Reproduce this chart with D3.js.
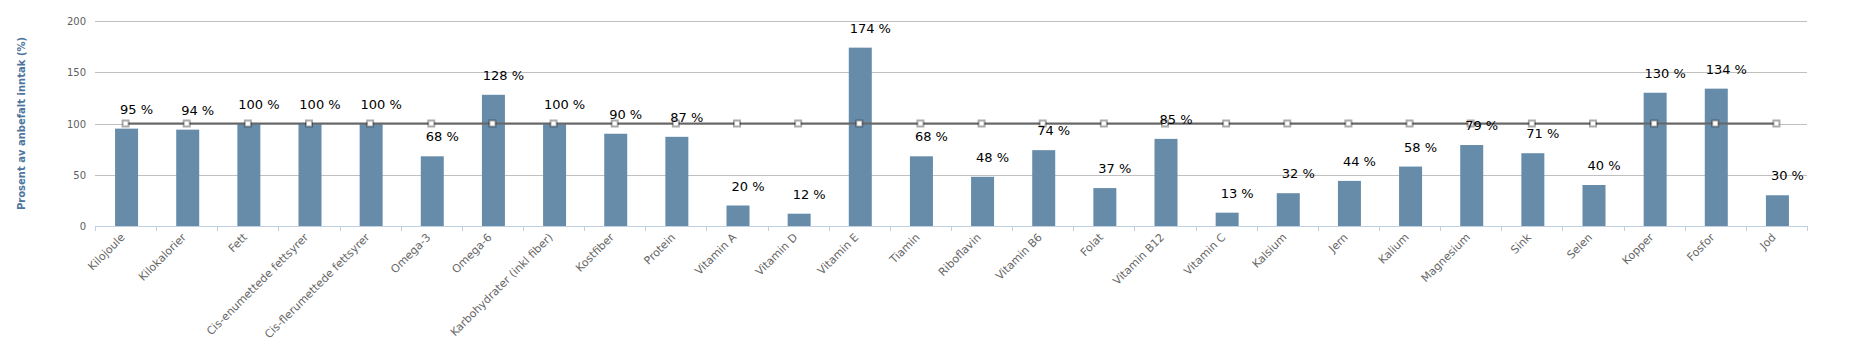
<!DOCTYPE html>
<html>
<head>
<meta charset="utf-8">
<script src="https://cdn.jsdelivr.net/npm/d3@7"></script>
<style>
    body { margin: 0; background: #fff; }
    svg { display: block; font-family: "DejaVu Sans", Verdana, sans-serif; }
</style>
</head>
<body>
<svg id="chart-svg" width="1857" height="362"></svg>
<script>
// næringsstoffer (kategorier)
var categories = ['Kilojoule', 'Kilokalorier', 'Fett', 'Cis-enumettede fettsyrer', 'Cis-flerumettede fettsyrer',
    'Omega-3', 'Omega-6', 'Karbohydrater (inkl fiber)', 'Kostfiber', 'Protein', 'Vitamin A', 'Vitamin D',
    'Vitamin E', 'Tiamin', 'Riboflavin', 'Vitamin B6', 'Folat', 'Vitamin B12', 'Vitamin C', 'Kalsium',
    'Jern', 'Kalium', 'Magnesium', 'Sink', 'Selen', 'Kopper', 'Fosfor', 'Jod']
// prosent av anbefalt inntak
var values = [95, 94, 100, 100, 100, 68, 128, 100, 90, 87, 20, 12, 174, 68, 48, 74, 37, 85, 13, 32, 44, 58, 79, 71, 40, 130, 134, 30]
// anbefalt nivå (100 %)
var target = categories.map(function () { return 100 })
var yTicks = [0, 50, 100, 150, 200]

var svg = d3.select('#chart-svg')
var conf = { left: 95, right: 1807, top: 21, bottom: 226 }

var x = d3.scaleBand().domain(categories).range([conf.left, conf.right]).paddingInner(0).paddingOuter(0)
var y = d3.scaleLinear().domain([0, 200]).range([conf.bottom, conf.top])
var barW = 23

// grid
svg.append('g').selectAll('line').data(yTicks).enter().append('line')
    .attr('x1', conf.left).attr('x2', conf.right)
    .attr('y1', d => Math.round(y(d)) + 0.5).attr('y2', d => Math.round(y(d)) + 0.5)
    .attr('stroke', '#c0c0c0').attr('stroke-width', 1)

// y tick labels
svg.append('g').selectAll('text').data(yTicks).enter().append('text')
    .attr('x', conf.left - 9).attr('y', d => y(d) + 4)
    .attr('text-anchor', 'end').attr('font-size', 10).attr('fill', '#606060')
    .text(d => d)

// y title
svg.append('text')
    .attr('transform', 'translate(' + 25 + ',' + (conf.top + conf.bottom) / 2 + ') rotate(-90)')
    .attr('text-anchor', 'middle').attr('font-size', 10).attr('font-weight', 'bold')
    .attr('fill', '#4d759e')
    .text('Prosent av anbefalt inntak (%)')

// bars
svg.append('g').selectAll('rect').data(values).enter().append('rect')
    .attr('x', (d, i) => x(categories[i]) + x.bandwidth() / 2 - barW / 2 + 1)
    .attr('y', d => y(d))
    .attr('width', barW)
    .attr('height', d => y(0) - y(d))
    .attr('fill', '#678caa')

// x axis
var axis = svg.append('g')
axis.append('line')
    .attr('x1', conf.left).attr('x2', conf.right)
    .attr('y1', conf.bottom + 0.5).attr('y2', conf.bottom + 0.5)
    .attr('stroke', '#c0d0e0')
var edges = categories.map(c => x(c)).concat([conf.right])
axis.selectAll('line.tick').data(edges).enter().append('line')
    .attr('class', 'tick')
    .attr('x1', d => Math.round(d) + 0.5).attr('x2', d => Math.round(d) + 0.5)
    .attr('y1', conf.bottom).attr('y2', conf.bottom + 5)
    .attr('stroke', '#c0d0e0')
axis.selectAll('text').data(categories).enter().append('text')
    .attr('transform', d => 'translate(' + (x(d) + x.bandwidth() / 2) + ',' + (conf.bottom + 12) + ') rotate(-45)')
    .attr('text-anchor', 'end').attr('font-size', 11).attr('fill', '#666')
    .text(d => d)

// 100 % line
var cx = (d, i) => x(categories[i]) + x.bandwidth() / 2
var line = d3.line().x(cx).y(d => y(d))
svg.append('path').datum(target)
    .attr('d', line).attr('fill', 'none')
    .attr('stroke', '#666').attr('stroke-width', 2)
svg.append('g').selectAll('rect').data(target).enter().append('rect')
    .attr('x', (d, i) => cx(d, i) - 3).attr('y', d => y(d) - 3)
    .attr('width', 6).attr('height', 6)
    .attr('fill', '#fff').attr('stroke', '#000').attr('stroke-opacity', 0.33).attr('stroke-width', 2)

// data labels
svg.append('g').selectAll('text').data(values).enter().append('text')
    .attr('x', (d, i) => x(categories[i]) + x.bandwidth() / 2 + 11)
    .attr('y', d => y(d) - 15)
    .attr('text-anchor', 'middle').attr('font-size', 13).attr('fill', '#000')
    .text(d => d + ' %')
</script>
</body>
</html>
